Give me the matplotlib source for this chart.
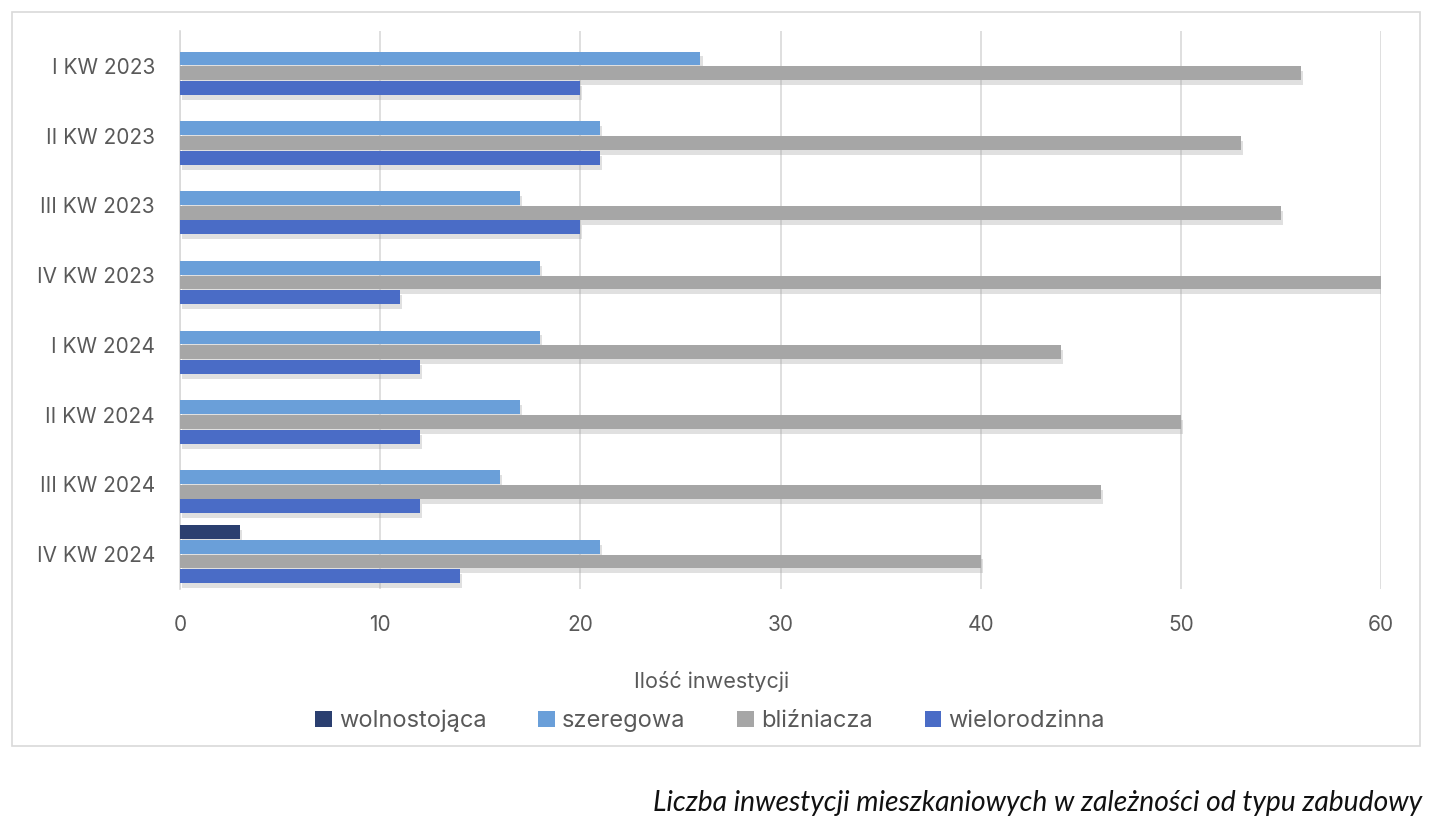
import matplotlib
matplotlib.use("Agg")
import matplotlib.pyplot as plt
import matplotlib.patheffects as pe
from matplotlib.patches import Rectangle, Patch
import numpy as np

categories = ["I KW 2023", "II KW 2023", "III KW 2023", "IV KW 2023",
              "I KW 2024", "II KW 2024", "III KW 2024", "IV KW 2024"]
series_names = ["wolnostojąca", "szeregowa", "bliźniacza", "wielorodzinna"]
wolnostojaca = [0, 0, 0, 0, 0, 0, 0, 3]
szeregowa = [26, 21, 17, 18, 18, 17, 16, 21]
blizniacza = [56, 53, 55, 60, 44, 50, 46, 40]
wielorodzinna = [20, 21, 20, 11, 12, 12, 12, 14]
x_ticks = [0, 10, 20, 30, 40, 50, 60]
x_title = "Ilość inwestycji"
caption = "Liczba inwestycji mieszkaniowych w zależności od typu zabudowy"

colors = ["#2b3f70", "#6a9fd9", "#a6a6a6", "#4a6cc6"]
series = [wolnostojaca, szeregowa, blizniacza, wielorodzinna]

W, H = 1436, 824
fig = plt.figure(figsize=(W / 100, H / 100), dpi=100)
fig.patch.set_facecolor("white")

# outer border
fig.patches.append(Rectangle((12 / W, 1 - 746 / H), 1408 / W, 734 / H,
                             transform=fig.transFigure, fill=False,
                             edgecolor="#d9d9d9", linewidth=1.2))

ax = fig.add_axes([180 / W, 1 - 589 / H, 1201 / W, 558 / H])
txt = "#595959"
font = ["Inter", "DejaVu Sans"]

y = np.arange(len(categories))
step = 0.211
bh = 0.2
offsets = [-1.5 * step, -0.5 * step, 0.5 * step, 1.5 * step]
shadow = [pe.withSimplePatchShadow(offset=(1.5, -3.5), shadow_rgbFace="#9a9a9a", alpha=0.3)]
for vals, col, off, name in zip(series, colors, offsets, series_names):
    bars = ax.barh(y + off, vals, height=bh, color=col, zorder=3)
    for b in bars:
        b.set_path_effects(shadow)

ax.set_ylim(len(categories) - 0.5, -0.5)
ax.set_xlim(0, 60)
ax.set_xticks(x_ticks)
ax.set_xticklabels([str(t) for t in x_ticks], fontsize=15, color=txt, family=font)
ax.set_yticks(y)
ax.set_yticklabels(categories, fontsize=15, color=txt, family=font)
ax.tick_params(axis="both", length=0)
ax.tick_params(axis="x", pad=19)
ax.tick_params(axis="y", pad=18)
ax.grid(axis="x", color="#d9d9d9", linewidth=1.2, zorder=0)
for s in ["top", "right", "bottom"]:
    ax.spines[s].set_visible(False)
ax.spines["left"].set_color("#d9d9d9")
ax.spines["left"].set_linewidth(1.2)

fig.text(712 / W, 1 - 681 / H, x_title, ha="center", va="center",
         fontsize=15.5, color=txt, family=font)

handles = [Patch(facecolor=c, label=n) for c, n in zip(colors, series_names)]
leg = fig.legend(handles=handles, loc="center", bbox_to_anchor=(710 / W, 1 - 721 / H), ncol=4,
                 frameon=False, handlelength=0.7, handleheight=0.7,
                 handletextpad=0.3, columnspacing=2.2,
                 prop={"family": font, "size": 17})
for t in leg.get_texts():
    t.set_color(txt)

fig.text(1422 / W, 1 - 803 / H, caption, ha="right", va="center",
         fontsize=20.3, style="italic", family=["Lato", "DejaVu Sans"], color="#111111")

fig.savefig("out.png", dpi=100)
